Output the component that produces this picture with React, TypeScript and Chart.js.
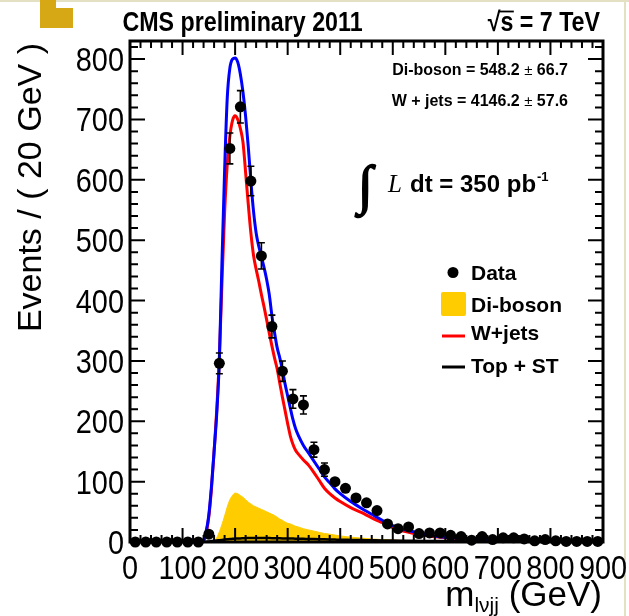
import React, { useEffect, useRef } from "react";
import { Chart, registerables } from "chart.js";

Chart.register(...registerables);

// ---------- data ----------
const binCenters = [10, 30, 50, 70, 90, 110, 130, 150, 170, 190, 210, 230, 250, 270, 290, 310, 330, 350, 370, 390, 410, 430, 450, 470, 490, 510, 530, 550, 570, 590, 610, 630, 650, 670, 690, 710, 730, 750, 770, 790, 810, 830, 850, 870, 890];
const dataCounts = [0, 0, 0, 0, 0, 0, 0, 13, 296, 652, 721, 598, 474, 357, 283, 237, 227, 153, 120, 100, 89, 73, 65, 52, 30, 22, 25, 14, 15, 15, 11, 9, 3, 9, 4, 7, 7, 5, 2, 4, 2, 1, 1, 1, 1];

const curveMass = [140, 145, 150, 155, 160, 165, 170, 175, 180, 185, 190, 195, 200, 205, 210, 215, 220, 225, 230, 235, 240, 245, 250, 255, 260, 265, 270, 275, 280, 285, 290, 295, 300, 305, 310, 315, 320, 330, 340, 350, 360, 370, 380, 390, 400, 420, 440, 460, 480, 500, 520, 540, 560, 580, 600, 650, 700, 750, 800, 850, 900];
const totalFit = [2, 18, 45, 92, 150, 212, 300, 465, 615, 735, 785, 800, 802, 795, 775, 745, 705, 655, 598, 548, 512, 490, 473, 455, 435, 410, 375, 347, 322, 305, 285, 262, 242, 222, 203, 188, 177, 160, 147, 134, 121, 108, 98, 88, 80, 67, 56, 46, 36, 27, 21, 17, 13, 10, 8, 5, 3, 2, 1.5, 1, 0.6];
const wjetsFit = [1, 15, 42, 88, 150, 218, 305, 430, 545, 625, 672, 698, 706, 700, 685, 662, 612, 560, 512, 475, 452, 432, 410, 390, 368, 346, 325, 305, 287, 263, 240, 218, 196, 176, 162, 152, 146, 136, 127, 115, 102, 89, 80, 73, 67, 57, 49, 40, 32, 24, 18, 14, 11, 8.5, 7, 4, 2.5, 1.7, 1.2, 0.8, 0.5];
const dibosonFit = [0, 0, 0, 0, 1, 7, 17, 29, 43, 58, 70, 77, 81, 80, 77, 74, 70, 66, 63, 60, 58, 56, 54, 52, 50, 48, 46, 44, 41, 38, 36, 33, 31, 30, 28, 26, 25, 22, 20, 18, 16, 14, 13, 11.5, 10, 8, 6.5, 5, 4, 3.2, 2.7, 2.3, 2, 1.7, 1.4, 1, 0.6, 0.4, 0.3, 0.2, 0.1];
const topFit = [0, 0.3, 1, 1.5, 2, 2.5, 3, 3.5, 4, 4.5, 5, 5.2, 5.5, 5.7, 6, 6.2, 6.4, 6.5, 6.6, 6.7, 6.8, 6.8, 6.8, 6.7, 6.6, 6.5, 6.4, 6.3, 6.2, 6.1, 6, 5.9, 5.8, 5.7, 5.6, 5.5, 5.4, 5.2, 5, 4.8, 4.6, 4.4, 4.2, 4, 3.8, 3.5, 3.2, 2.9, 2.6, 2.4, 2.2, 2, 1.8, 1.6, 1.5, 1.2, 0.9, 0.7, 0.5, 0.4, 0.3];

const yTickValues = [0, 100, 200, 300, 400, 500, 600, 700, 800];
const yTickLabels = ["0", "100", "200", "300", "400", "500", "600", "700", "800"];
const xTickValues = [0, 100, 200, 300, 400, 500, 600, 700, 800, 900];
const xTickLabels = ["0", "100", "200", "300", "400", "500", "600", "700", "800", "900"];

const legendLabels = ["Data", "Di-boson", "W+jets", "Top + ST"];
const fitResults = [
  ["Di-boson = 548.2 ", "\u00b1", " 66.7"],
  ["W + jets = 4146.2 ", "\u00b1", " 57.6"],
];

const SANS = "'Liberation Sans', Arial, Helvetica, sans-serif";
const SERIF = "'Liberation Serif', 'Times New Roman', serif";

function drawText(ctx: CanvasRenderingContext2D, s: string, x: number, y: number, font: string,
  align: CanvasTextAlign, baseline: CanvasTextBaseline, sx = 1, color = "#000") {
  ctx.save();
  ctx.font = font;
  ctx.fillStyle = color;
  ctx.textAlign = align;
  ctx.textBaseline = baseline;
  ctx.translate(x, y);
  ctx.scale(sx, 1);
  ctx.fillText(s, 0, 0);
  ctx.restore();
}
function measure(ctx: CanvasRenderingContext2D, s: string, font: string, sx = 1) {
  ctx.save();
  ctx.font = font;
  const w = ctx.measureText(s).width * sx;
  ctx.restore();
  return w;
}

const errorBars = {
  id: "errorBars",
  afterDatasetsDraw(chart: any) {
    const ctx = chart.ctx as CanvasRenderingContext2D;
    const xs = chart.scales.x, ys = chart.scales.y;
    ctx.save();
    ctx.strokeStyle = "#000";
    ctx.lineWidth = 1.6;
    binCenters.forEach((m, i) => {
      const v = dataCounts[i];
      if (v <= 0) return;
      const e = Math.sqrt(v);
      const px = xs.getPixelForValue(m);
      const yt = ys.getPixelForValue(v + e);
      const yb = ys.getPixelForValue(v - e);
      if (yb - yt < 13) return;
      ctx.beginPath();
      ctx.moveTo(px, yt); ctx.lineTo(px, yb);
      ctx.moveTo(px - 3.5, yt); ctx.lineTo(px + 3.5, yt);
      ctx.moveTo(px - 3.5, yb); ctx.lineTo(px + 3.5, yb);
      ctx.stroke();
    });
    ctx.restore();
  },
};

const decorations = {
  id: "decorations",
  afterDraw(chart: any) {
    const ctx = chart.ctx as CanvasRenderingContext2D;
    const xs = chart.scales.x, ys = chart.scales.y;
    const a = chart.chartArea;
    ctx.save();

    // page decorations
    ctx.fillStyle = "#E4E0C4";
    ctx.fillRect(0, 0, 629, 2);
    ctx.fillRect(624, 0, 2, 616);
    ctx.fillStyle = "#D6A815";
    ctx.fillRect(40, 0, 16, 28);
    ctx.fillRect(40, 8, 33, 20);

    // frame
    ctx.strokeStyle = "#000";
    ctx.lineWidth = 3;
    ctx.strokeRect(a.left, a.top, a.right - a.left, a.bottom - a.top);

    // ticks
    ctx.lineWidth = 2;
    ctx.beginPath();
    for (let v = 0; v <= 830; v += 20) {
      const major = v % 100 === 0;
      const len = major ? 15 : 8;
      const py = ys.getPixelForValue(v);
      if (py < a.top + 1) continue;
      ctx.moveTo(a.left, py); ctx.lineTo(a.left + len, py);
      ctx.moveTo(a.right, py); ctx.lineTo(a.right - len, py);
    }
    for (let m = 0; m <= 900; m += 20) {
      const major = m % 100 === 0;
      const len = major ? 14 : 7;
      const px = xs.getPixelForValue(m);
      ctx.moveTo(px, a.bottom); ctx.lineTo(px, a.bottom - len);
      ctx.moveTo(px, a.top); ctx.lineTo(px, a.top + len);
    }
    ctx.stroke();

    // tick labels
    const tickFont = `34px ${SANS}`;
    yTickValues.forEach((v, i) => {
      drawText(ctx, yTickLabels[i], 124, ys.getPixelForValue(v) + 12, tickFont, "right", "alphabetic", 0.85);
    });
    xTickValues.forEach((m, i) => {
      drawText(ctx, xTickLabels[i], xs.getPixelForValue(m), 579, tickFont, "center", "alphabetic", 0.85);
    });

    // y title
    ctx.save();
    ctx.translate(41, 43);
    ctx.rotate(-Math.PI / 2);
    ctx.font = `34px ${SANS}`;
    ctx.fillStyle = "#000";
    ctx.textAlign = "right";
    ctx.textBaseline = "alphabetic";
    ctx.fillText("Events / ( 20 GeV )", 0, 0);
    ctx.restore();

    // x title
    const xtFont = `35px ${SANS}`;
    const subFont = `21px ${SANS}`;
    const wUnit = measure(ctx, " (GeV)", xtFont);
    const wSub = measure(ctx, "l\u03bdjj", subFont);
    const wM = measure(ctx, "m", xtFont);
    const xEnd = 602;
    drawText(ctx, " (GeV)", xEnd - wUnit, 606, xtFont, "left", "alphabetic");
    drawText(ctx, "l\u03bdjj", xEnd - wUnit - wSub, 612, subFont, "left", "alphabetic");
    drawText(ctx, "m", xEnd - wUnit - wSub - wM, 606, xtFont, "left", "alphabetic");

    // header
    const hFont = `bold 27px ${SANS}`;
    drawText(ctx, "CMS preliminary 2011", 122.5, 31, hFont, "left", "alphabetic", 0.86);
    const sqrtStr = "\u221as = 7 TeV";
    const wAll = measure(ctx, sqrtStr, hFont, 0.86);
    const x0 = 600 - wAll;
    drawText(ctx, sqrtStr, x0, 31, hFont, "left", "alphabetic", 0.86);
    const wRoot = measure(ctx, "\u221a", hFont, 0.86);
    const wS = measure(ctx, "s", hFont, 0.86);
    ctx.lineWidth = 1.8;
    ctx.beginPath();
    ctx.moveTo(x0 + wRoot - 1.5, 11.5);
    ctx.lineTo(x0 + wRoot + wS + 0.5, 11.5);
    ctx.stroke();

    // fit results
    const bFont = `bold 16px ${SANS}`;
    const pmFont = `15px ${SANS}`;
    [75, 106].forEach((by, r) => {
      const parts = fitResults[r];
      const fonts = [bFont, pmFont, bFont];
      let total = 0;
      parts.forEach((p, k) => (total += measure(ctx, p, fonts[k])));
      let cx = 568 - total;
      parts.forEach((p, k) => {
        drawText(ctx, p, cx, by, fonts[k], "left", "alphabetic");
        cx += measure(ctx, p, fonts[k]);
      });
    });

    // luminosity
    ctx.save();
    ctx.font = `54px ${SERIF}`;
    ctx.fillStyle = "#000";
    ctx.strokeStyle = "#000";
    ctx.lineWidth = 1.6;
    ctx.textAlign = "left";
    ctx.textBaseline = "alphabetic";
    ctx.fillText("\u222b", 358, 203);
    ctx.strokeText("\u222b", 358, 203);
    ctx.restore();
    drawText(ctx, "L", 388, 192, `italic 25px ${SERIF}`, "left", "alphabetic");
    const lFont = `bold 24px ${SANS}`;
    drawText(ctx, "dt = 350 pb", 410, 192, lFont, "left", "alphabetic");
    const wl = measure(ctx, "dt = 350 pb", lFont);
    drawText(ctx, "-1", 410 + wl + 1, 181, `bold 13px ${SANS}`, "left", "alphabetic");

    // legend
    const legFont = `bold 21px ${SANS}`;
    const legBase = [280, 311.5, 339.5, 373];
    ctx.fillStyle = "#000";
    ctx.beginPath();
    ctx.arc(453, 272.5, 5.5, 0, Math.PI * 2);
    ctx.fill();
    ctx.fillStyle = "#FFCC00";
    ctx.beginPath();
    (ctx as any).roundRect ? (ctx as any).roundRect(441, 292, 25, 24, 2) : ctx.rect(441, 292, 25, 24);
    ctx.fill();
    ctx.lineWidth = 3;
    ctx.strokeStyle = "#FF0000";
    ctx.beginPath(); ctx.moveTo(442, 336); ctx.lineTo(465, 336); ctx.stroke();
    ctx.strokeStyle = "#000";
    ctx.beginPath(); ctx.moveTo(442, 367); ctx.lineTo(465, 367); ctx.stroke();
    legendLabels.forEach((lab, i) => {
      drawText(ctx, lab, 471, legBase[i], legFont, "left", "alphabetic");
    });

    ctx.restore();
  },
};

export default function App() {
  const ref = useRef<HTMLCanvasElement | null>(null);
  useEffect(() => {
    if (!ref.current) return;
    const curve = (vals: number[]) => curveMass.map((m, i) => ({ x: m, y: vals[i] }));
    const chart = new Chart(ref.current, {
      type: "line",
      data: {
        datasets: [
          {
            label: "Data",
            data: binCenters.map((m, i) => ({ x: m, y: dataCounts[i] })),
            showLine: false,
            pointRadius: 5.5,
            pointBackgroundColor: "#000",
            pointBorderColor: "#000",
            pointBorderWidth: 0,
            clip: false,
          } as any,
          {
            label: "Total",
            data: curve(totalFit),
            borderColor: "#0000FF",
            borderWidth: 3,
            pointRadius: 0,
            cubicInterpolationMode: "monotone",
          },
          {
            label: "W+jets",
            data: curve(wjetsFit),
            borderColor: "#FF0000",
            borderWidth: 3,
            pointRadius: 0,
            cubicInterpolationMode: "monotone",
          },
          {
            label: "Top + ST",
            data: curve(topFit),
            borderColor: "#000000",
            borderWidth: 2.5,
            pointRadius: 0,
            cubicInterpolationMode: "monotone",
          },
          {
            label: "Di-boson",
            data: curve(dibosonFit),
            borderColor: "#FFCC00",
            backgroundColor: "#FFCC00",
            borderWidth: 1,
            pointRadius: 0,
            fill: "origin",
            cubicInterpolationMode: "monotone",
          },
        ],
      },
      options: {
        animation: false,
        responsive: false,
        devicePixelRatio: 1,
        layout: { padding: { left: 130, right: 26, top: 41, bottom: 74 } },
        plugins: { legend: { display: false }, tooltip: { enabled: false } },
        scales: {
          x: { type: "linear", min: 0, max: 900, display: false },
          y: { type: "linear", min: 0, max: 830, display: false },
        },
      },
      plugins: [errorBars, decorations],
    });
    return () => chart.destroy();
  }, []);
  return (
    <div style={{ position: "fixed", left: 0, top: 0, width: 629, height: 616, background: "#fff" }}>
      <canvas ref={ref} width={629} height={616} style={{ display: "block" }} />
    </div>
  );
}
